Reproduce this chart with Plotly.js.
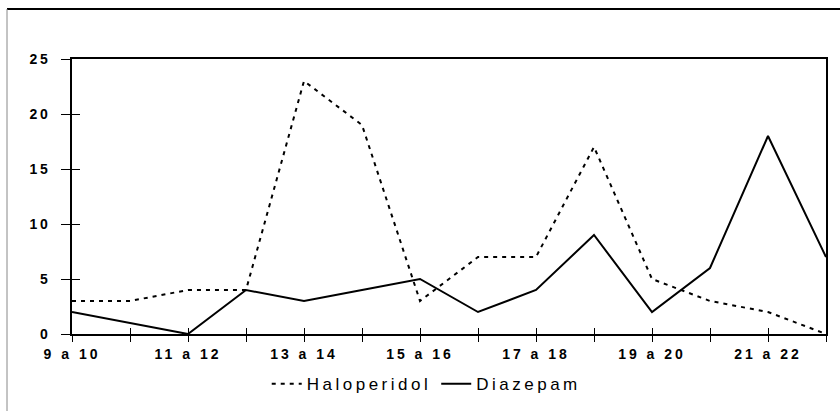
<!DOCTYPE html>
<html>
<head>
<meta charset="utf-8">
<script src="https://cdn.plot.ly/plotly-3.0.1.min.js"></script>
<style>
body { margin: 0; background: #fff; }
.legendtext { letter-spacing: 3.5px; }
.xtick text { letter-spacing: 3px; }
.ytick text { letter-spacing: 2.5px; }
</style>
</head>
<body>
<div id="graph" style="width:840px;height:411px;"></div>
<script>
// horas do dia (intervalos)
var horas = ['9 a 10', '10 a 11', '11 a 12', '12 a 13', '13 a 14', '14 a 15', '15 a 16',
             '16 a 17', '17 a 18', '18 a 19', '19 a 20', '20 a 21', '21 a 22', '22 a 23'];
var haloperidol = [3, 3, 4, 4, 23, 19, 3, 7, 7, 17, 5, 3, 2, 0];
var diazepam    = [2, 1, 0, 4, 3, 4, 5, 2, 4, 9, 2, 6, 18, 7];
// only every other label is shown
var rotulos = horas.map(function (h, i) { return (i % 2 == 0) ? h : ''; });

var trace1 = {
    x: horas,
    y: haloperidol,
    type: 'scatter',
    mode: 'lines',
    name: 'Haloperidol',
    line: { color: '#000', width: 2, dash: '4px,5px' }
};
var trace2 = {
    x: horas,
    y: diazepam,
    type: 'scatter',
    mode: 'lines',
    name: 'Diazepam',
    line: { color: '#000', width: 2 }
};
// invisible copy just to get inside ticks (crossing marks)
var trace3 = {
    x: horas, y: diazepam, xaxis: 'x2', yaxis: 'y2',
    type: 'scatter', mode: 'lines', showlegend: false, hoverinfo: 'skip',
    line: { color: 'rgba(0,0,0,0)', width: 0 }
};

var layout = {
    width: 840,
    height: 411,
    margin: { l: 72, r: 14, t: 59, b: 77, autoexpand: false },
    paper_bgcolor: '#fff',
    plot_bgcolor: '#fff',
    font: { family: 'Liberation Sans, Arial, sans-serif', color: '#000' },
    showlegend: true,
    legend: {
        orientation: 'h', xref: 'container', x: 0.508, xanchor: 'center',
        yref: 'container', y: 0.065, yanchor: 'middle',
        font: { size: 17, color: '#000' }, itemwidth: 30, tracegroupgap: 0
    },
    xaxis: {
        type: 'category',
        categoryorder: 'array', categoryarray: horas,
        range: [0, horas.length - 1],
        tickvals: horas, ticktext: rotulos,
        ticks: 'outside', ticklen: 6, tickcolor: '#000', tickwidth: 1,
        showline: true, linecolor: '#000', linewidth: 2, mirror: true,
        showgrid: false, zeroline: false,
        tickfont: { size: 14, family: 'Liberation Sans, Arial, sans-serif', weight: 'bold' }
    },
    yaxis: {
        range: [0, 25],
        tickvals: [0, 5, 10, 15, 20, 25],
        ticks: 'outside', ticklen: 9, tickcolor: '#000', tickwidth: 1,
        ticklabelstandoff: 8,
        showline: true, linecolor: '#000', linewidth: 2, mirror: true,
        showgrid: false, zeroline: false,
        tickfont: { size: 14, family: 'Liberation Sans, Arial, sans-serif', weight: 'bold' }
    },
    xaxis2: {
        type: 'category', categoryorder: 'array', categoryarray: horas,
        range: [0, horas.length - 1], overlaying: 'x', anchor: 'y2',
        tickvals: horas, ticktext: horas.map(function () { return ''; }),
        ticks: 'inside', ticklen: 6, tickcolor: '#000',
        showline: false, showgrid: false, zeroline: false
    },
    yaxis2: {
        range: [0, 25], overlaying: 'y', anchor: 'x2',
        tickvals: [0, 5, 10, 15, 20, 25], showticklabels: false,
        ticks: 'inside', ticklen: 8, tickcolor: '#000',
        showline: false, showgrid: false, zeroline: false
    },
    shapes: [
        // outer frame (top and left only)
        { type: 'line', xref: 'paper', yref: 'paper', x0: -0.0862, x1: 1.02, y0: 1.1818, y1: 1.1818,
          line: { color: '#000', width: 2 } },
        { type: 'line', xref: 'paper', yref: 'paper', x0: -0.0862, x1: -0.0862, y0: 1.1818, y1: -0.28,
          line: { color: '#888', width: 1 } }
    ]
};

Plotly.newPlot('graph', [trace1, trace2, trace3], layout, { staticPlot: true });
</script>
</body>
</html>
